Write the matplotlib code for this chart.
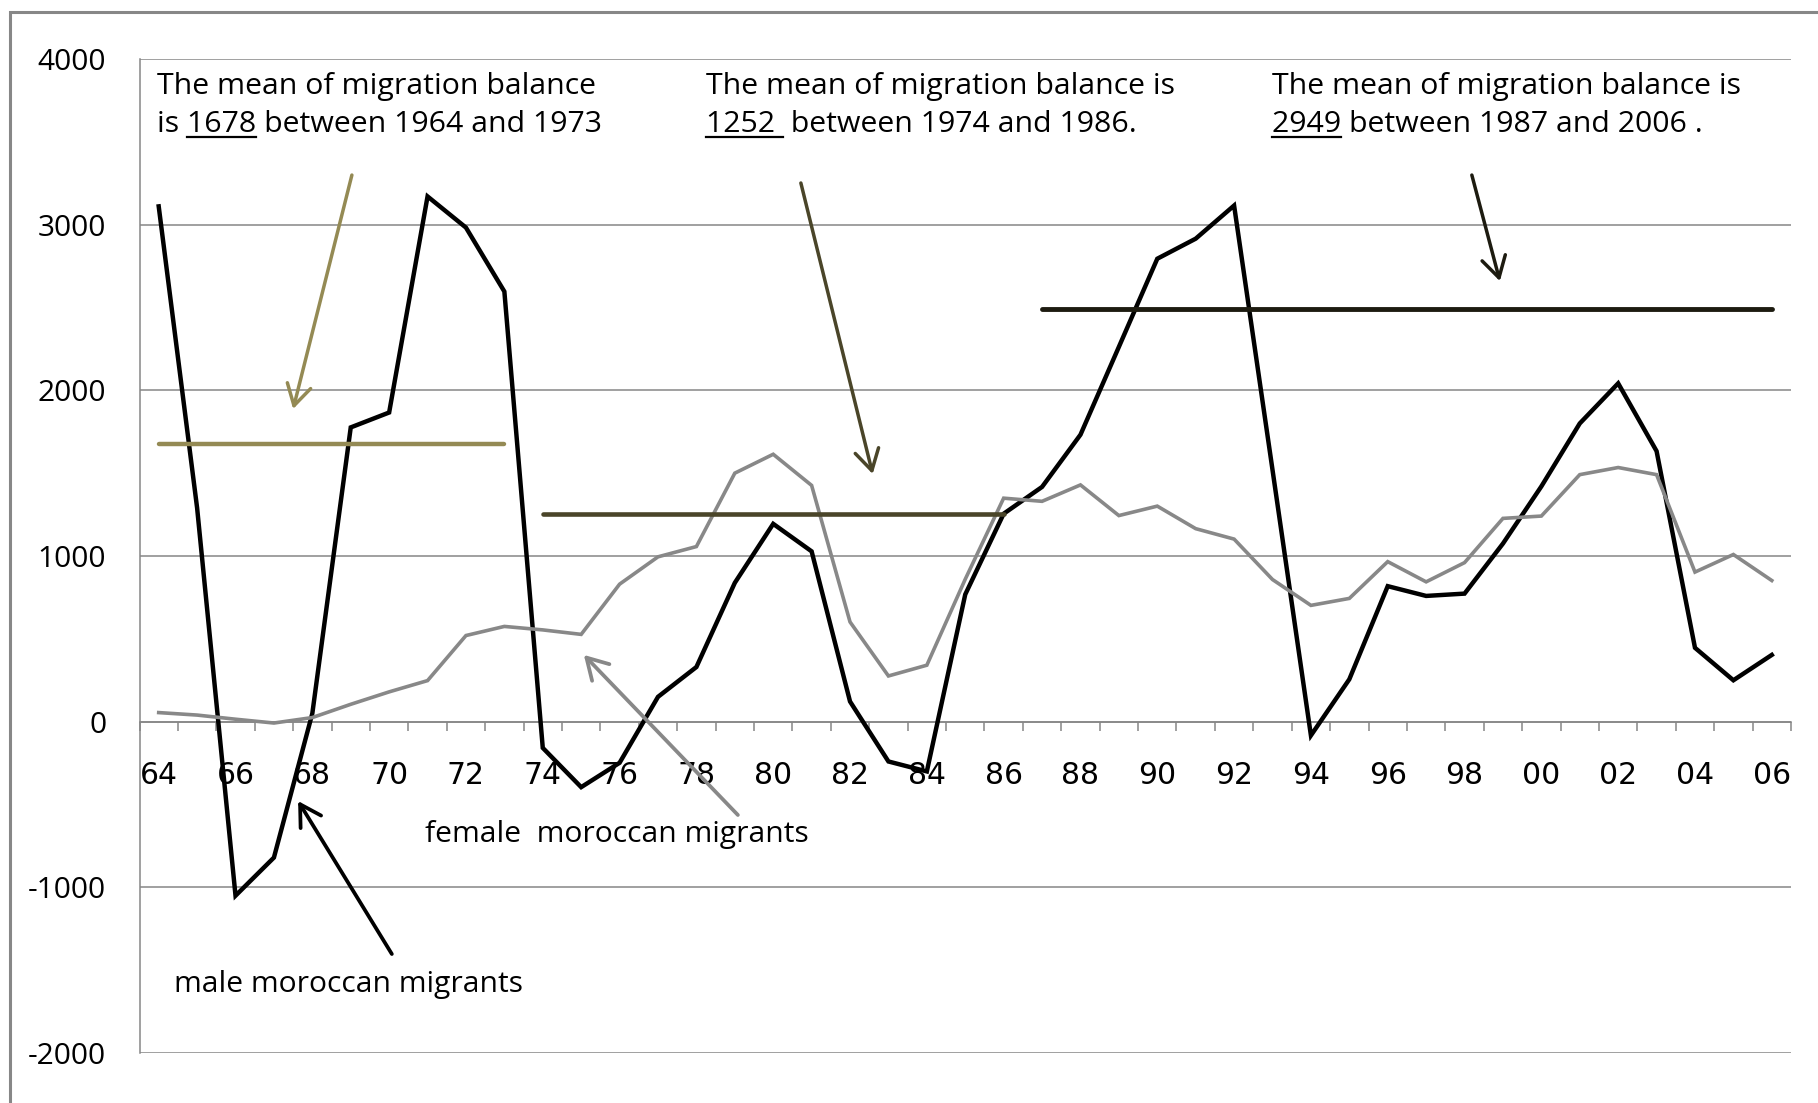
import matplotlib
matplotlib.use('Agg')
import matplotlib.pyplot as plt
from matplotlib.font_manager import FontProperties
from matplotlib.lines import Line2D
from matplotlib.patches import Rectangle
import numpy as np

plt.rcParams['axes.unicode_minus'] = False

# ---------------- data ----------------
years = ['64', '65', '66', '67', '68', '69', '70', '71', '72', '73',
         '74', '75', '76', '77', '78', '79', '80', '81', '82', '83',
         '84', '85', '86', '87', '88', '89', '90', '91', '92', '93',
         '94', '95', '96', '97', '98', '99', '00', '01', '02', '03',
         '04', '05', '06']
male = [3110, 1290, -1050, -820, 50, 1776, 1866, 3170, 2982, 2596,
        -158, -395, -248, 150, 330, 838, 1194, 1028, 122, -240,
        -300, 768, 1255, 1417, 1732, 2262, 2794, 2915, 3115, 1520,
        -83, 256, 818, 759, 773, 1075, 1420, 1800, 2042, 1633,
        446, 250, 403]
female = [55, 40, 15, -8, 25, 105, 180, 248, 520, 575,
          554, 527, 830, 995, 1057, 1500, 1614, 1426, 602, 276,
          341, 860, 1349, 1330, 1429, 1244, 1301, 1165, 1102, 858,
          702, 744, 966, 844, 960, 1227, 1241, 1491, 1534, 1491,
          903, 1009, 852]
mean_text_values = ['1678', '1252', '2949']
mean_periods = [('1964', '1973'), ('1974', '1986'), ('1987', '2006')]
mean_levels = [1678, 1252, 2490]          # level at which each mean bar is drawn
mean_start = ['64', '74', '87']
mean_end = ['73', '86', '06']
yticks = [-2000, -1000, 0, 1000, 2000, 3000, 4000]
male_label = 'male moroccan migrants'
female_label = 'female  moroccan migrants'

# ---------------- style ----------------
W, H = 1818, 1103
GRID = '#868686'
FEMALE_C = '#888888'
MEAN_COLORS = ['#948A54', '#4A4529', '#1D1B10']
ANN_FONT = 'Open Sans'
TICK_FONT = 'Open Sans'

fig = plt.figure(figsize=(W / 100, H / 100), dpi=100)
fig.patch.set_facecolor('white')


def fx(px):
    return px / W


def fy(py):
    return 1 - py / H


ax_left, ax_right, ax_top, ax_bot = 139.5, 1791.0, 58.9, 1053.1
ax = fig.add_axes([fx(ax_left), fy(ax_bot), (ax_right - ax_left) / W, (ax_bot - ax_top) / H])
x = np.arange(len(years))
ax.set_xlim(-0.5, len(years) - 0.5)
ax.set_ylim(yticks[0], yticks[-1])

# grid and axes
ax.set_axisbelow(True)
ax.set_yticks(yticks)
ax.set_yticklabels([str(v) for v in yticks], fontfamily=TICK_FONT)
ax.yaxis.grid(True, color=GRID, lw=1.1)
ax.tick_params(axis='y', length=0, pad=24, labelsize=21.5, labelcolor='black')

ax.set_xticks(x[::2])
ax.set_xticklabels(years[::2], fontfamily=TICK_FONT)
ax.set_xticks(np.arange(-0.5, len(years)), minor=True)
ax.tick_params(axis='x', which='major', length=0, pad=28, labelsize=21.5, labelcolor='black')
ax.tick_params(axis='x', which='minor', length=6.5, width=1.1, color=GRID, direction='out')

for s in ['top', 'right']:
    ax.spines[s].set_visible(False)
ax.spines['bottom'].set_position(('data', 0))
ax.spines['bottom'].set_color(GRID)
ax.spines['bottom'].set_linewidth(1.1)
ax.spines['left'].set_color(GRID)
ax.spines['left'].set_linewidth(1.1)

# series
ax.plot(x, male, color='black', lw=3.2, zorder=3, solid_joinstyle='miter')
ax.plot(x, female, color=FEMALE_C, lw=2.6, zorder=3, solid_joinstyle='miter')

# mean bars
mean_lw = [3.2, 3.3, 3.5]
for lvl, s0, s1, c, lw in zip(mean_levels, mean_start, mean_end, MEAN_COLORS, mean_lw):
    i0, i1 = years.index(s0), years.index(s1)
    ax.plot([i0, i1], [lvl, lvl], color=c, lw=lw, solid_capstyle='round', zorder=4)

# arrows (tail, head) in data coordinates
arrows = [
    ((5.03, 3299), (3.50, 1887), MEAN_COLORS[0], 2.5),
    ((16.72, 3251), (18.59, 1495), MEAN_COLORS[1], 2.5),
    ((34.19, 3299), (34.92, 2659), MEAN_COLORS[2], 2.5),
    ((15.08, -563), (11.07, 403), FEMALE_C, 2.7),
    ((6.07, -1402), (3.63, -479), 'black', 2.7),
]
for tail, head, c, lw in arrows:
    ax.annotate('', xy=head, xytext=tail, annotation_clip=False,
                arrowprops=dict(arrowstyle='->,head_length=0.55,head_width=0.32',
                                color=c, lw=lw, shrinkA=0, shrinkB=0,
                                mutation_scale=27), zorder=5)

# outer frame
fig.add_artist(Rectangle((fx(10), -0.5), 2.0, fy(12) + 0.5, transform=fig.transFigure,
                         fill=False, edgecolor='#878787', lw=2.2, zorder=0))

# ---------------- text ----------------
renderer = fig.canvas.get_renderer()


def tw(s, size, fam):
    fp = FontProperties(family=fam, size=size)
    return renderer.get_text_width_height_descent(s, fp, ismath=False)[0]


ann_size = 20 * 468 / tw('The mean of migration balance is', 20, ANN_FONT)

line1 = ['The mean of migration balance',
         'The mean of migration balance is',
         'The mean of migration balance is']
prefixes = ['is ', '', '']
under_tail = ['', ' ', '']
suffixes = [' between {} and {}', '  between {} and {}.', ' between {} and {} .']
lefts = [157, 706, 1272]
base1, base2 = 94.3, 131.7

for k in range(3):
    x0 = lefts[k]
    fig.text(fx(x0), fy(base1), line1[k], fontsize=ann_size, family=ANN_FONT,
             ha='left', va='baseline', color='black')
    txt2 = prefixes[k] + mean_text_values[k] + suffixes[k].format(*mean_periods[k])
    fig.text(fx(x0), fy(base2), txt2, fontsize=ann_size, family=ANN_FONT,
             ha='left', va='baseline', color='black')
    if prefixes[k]:
        u0 = x0 + tw(prefixes[k] + 'x', ann_size, ANN_FONT) - tw('x', ann_size, ANN_FONT)
    else:
        u0 = x0
    if under_tail[k]:
        u1 = x0 + tw(prefixes[k] + mean_text_values[k] + under_tail[k] + 'x', ann_size, ANN_FONT) \
            - tw('x', ann_size, ANN_FONT)
    else:
        u1 = x0 + tw(prefixes[k] + mean_text_values[k], ann_size, ANN_FONT)
    fig.add_artist(Line2D([fx(u0), fx(u1)], [fy(base2 + 5), fy(base2 + 5)],
                          transform=fig.transFigure, color='black', lw=1.6))

f_size = 20 * 382 / tw(female_label, 20, ANN_FONT)
m_size = 20 * 348 / tw(male_label, 20, ANN_FONT)
fig.text(fx(424.7), fy(842), female_label, fontsize=f_size, family=ANN_FONT,
         ha='left', va='baseline', color='black')
fig.text(fx(174), fy(992), male_label, fontsize=m_size, family=ANN_FONT,
         ha='left', va='baseline', color='black')

fig.savefig('out.png', dpi=100, facecolor='white')
